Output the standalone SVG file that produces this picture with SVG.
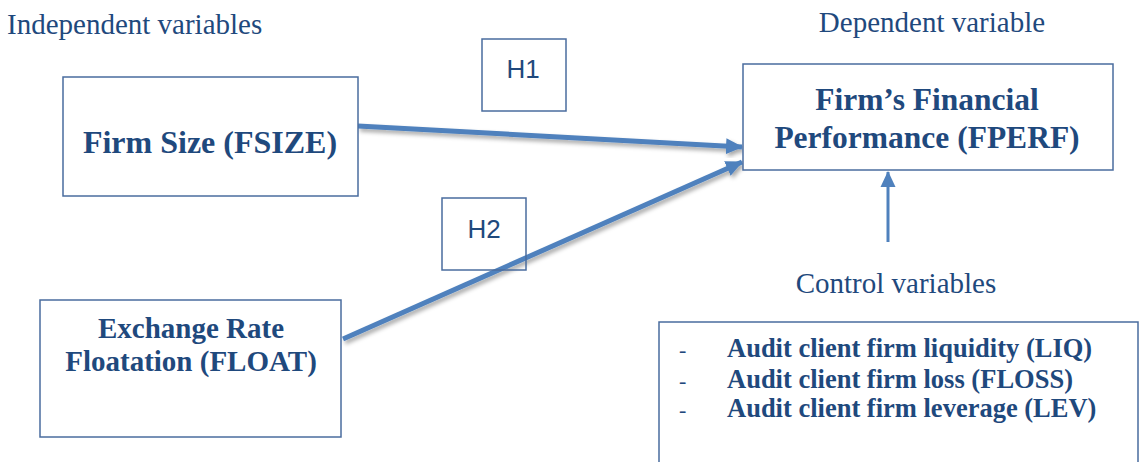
<svg xmlns="http://www.w3.org/2000/svg" width="1139" height="462" viewBox="0 0 1139 462">
<style>
.box{fill:#fff;stroke:#4A6C9E;stroke-width:1.5}
.hdr{font-family:"Liberation Serif",serif;font-size:29px;fill:#1F497D}
.bt{font-family:"Liberation Serif",serif;font-weight:bold;fill:#1F497D}
.h{font-family:"Liberation Sans",sans-serif;font-size:26px;fill:#1F497D;text-anchor:middle}
.arr{stroke:#4F81BD;fill:none}
</style>
<defs>
<filter id="sh" x="-10%" y="-50%" width="120%" height="200%">
<feDropShadow dx="2" dy="3" stdDeviation="2" flood-color="#000" flood-opacity="0.35"/>
</filter>
<marker id="ah" markerUnits="userSpaceOnUse" markerWidth="18" markerHeight="18" viewBox="0 0 18 18" refX="16" refY="9" orient="auto">
<path d="M0,1 L17,9 L0,17 z" fill="#4F81BD"/>
</marker>
<marker id="ah2" markerUnits="userSpaceOnUse" markerWidth="16" markerHeight="16" viewBox="0 0 16 16" refX="15" refY="8" orient="auto">
<path d="M0,0.5 L16,8 L0,15.5 z" fill="#4F81BD"/>
</marker>
</defs>
<rect width="1139" height="462" fill="#fff"/>
<text class="hdr" x="7" y="34">Independent variables</text>
<text class="hdr" x="932" y="32" text-anchor="middle">Dependent variable</text>
<text class="hdr" x="896" y="293" text-anchor="middle">Control variables</text>

<g id="connectors">
<line class="arr" x1="358" y1="126" x2="742" y2="147" stroke-width="5" marker-end="url(#ah)" filter="url(#sh)"/>
<line class="arr" x1="343" y1="339" x2="742" y2="162" stroke-width="5" marker-end="url(#ah)" filter="url(#sh)"/>
<line class="arr" x1="888" y1="242" x2="888" y2="172" stroke-width="3" marker-end="url(#ah2)"/>
</g>

<g id="fsize">
<rect class="box" x="63" y="77" width="295" height="119"/>
<text class="bt" x="210" y="153" font-size="32" text-anchor="middle">Firm Size (FSIZE)</text>
</g>
<g id="h1">
<rect class="box" x="482" y="39" width="84" height="72"/>
<text class="h" x="523" y="78">H1</text>
</g>
<g id="h2">
<rect class="box" x="442" y="198" width="84" height="72" style="fill:none"/>
<text class="h" x="484" y="238">H2</text>
</g>
<g id="fperf">
<rect class="box" x="743" y="64" width="370" height="106"/>
<text class="bt" x="927" y="110" font-size="31.5" text-anchor="middle">Firm’s Financial</text>
<text class="bt" x="927" y="148" font-size="31.5" text-anchor="middle">Performance (FPERF)</text>
</g>
<g id="float">
<rect class="box" x="40" y="300" width="301" height="137"/>
<text class="bt" x="191" y="338" font-size="29" text-anchor="middle">Exchange Rate</text>
<text class="bt" x="191" y="371" font-size="29" text-anchor="middle">Floatation (FLOAT)</text>
</g>
<g id="controls">
<path class="box" d="M659,462 L659,322 L1138,322 L1138,462"/>
<g class="bt" font-size="26.5">
<text x="679" y="357" font-weight="normal" font-size="22">-</text>
<text x="679" y="388" font-weight="normal" font-size="22">-</text>
<text x="679" y="417" font-weight="normal" font-size="22">-</text>
<text x="727" y="357">Audit client firm liquidity (LIQ)</text>
<text x="727" y="388">Audit client firm loss (FLOSS)</text>
<text x="727" y="417">Audit client firm leverage (LEV)</text>
</g>
</g>
</svg>
